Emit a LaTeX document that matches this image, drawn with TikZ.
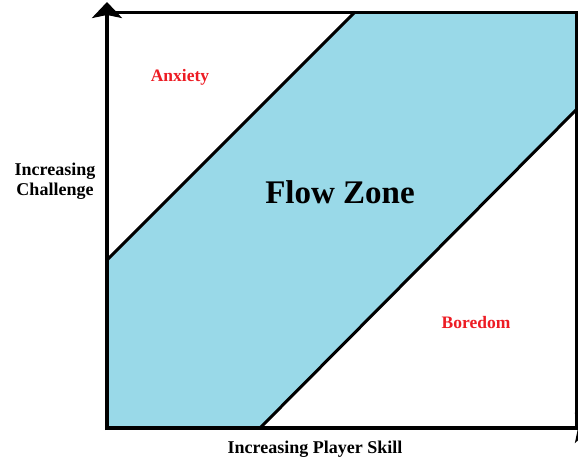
\documentclass[tikz,border=0pt]{standalone}
\usepackage{fontspec}
\setmainfont{Liberation Serif}
\usetikzlibrary{arrows.meta}
\definecolor{flowblue}{RGB}{153,217,232}
\definecolor{zonered}{RGB}{237,28,36}

\begin{document}
\begin{tikzpicture}[
    x=1pt, y=-1pt,
    zone/.style={font=\fontsize{17.5}{20}\selectfont\bfseries, text=zonered},
    axislabel/.style={font=\fontsize{18}{20.5}\selectfont\bfseries, align=center},
    edge/.style={line width=3pt},
    axis/.style={line width=4pt, -{Stealth[length=16pt, width=30pt, inset=3pt]}},
]
\clip (0,0) rectangle (578,458);
% corners of the chart
\coordinate (origin) at (107,428);
\coordinate (topleft) at (107,12);
\coordinate (topright) at (576,12);
\coordinate (botright) at (576,428);
% ends of the two diagonals
\coordinate (upA) at (107,260);
\coordinate (upB) at (355,12);
\coordinate (lowA) at (260,428);
\coordinate (lowB) at (576,110);
\fill[flowblue] (upA) -- (upB) -- (topright) -- (lowB) -- (lowA) -- (origin) -- cycle;
\draw[edge] (upA) -- (upB);
\draw[edge] (lowA) -- (lowB);
\draw[edge] (topleft) -- (topright) -- (botright);
\draw[axis] (107,430) -- (107,2);
\draw[axis] (105,428) -- (591,428);
\node[zone] (anxiety) at (180,77) {Anxiety};
\node[zone] (boredom) at (476,323) {Boredom};
\node[font=\fontsize{33}{36}\selectfont\bfseries] (flow) at (340,192) {Flow Zone};
\node[axislabel] (challenge) at (55,181) {Increasing\\Challenge};
\node[axislabel] (skill) at (315,449) {Increasing Player Skill};
\end{tikzpicture}
\end{document}
